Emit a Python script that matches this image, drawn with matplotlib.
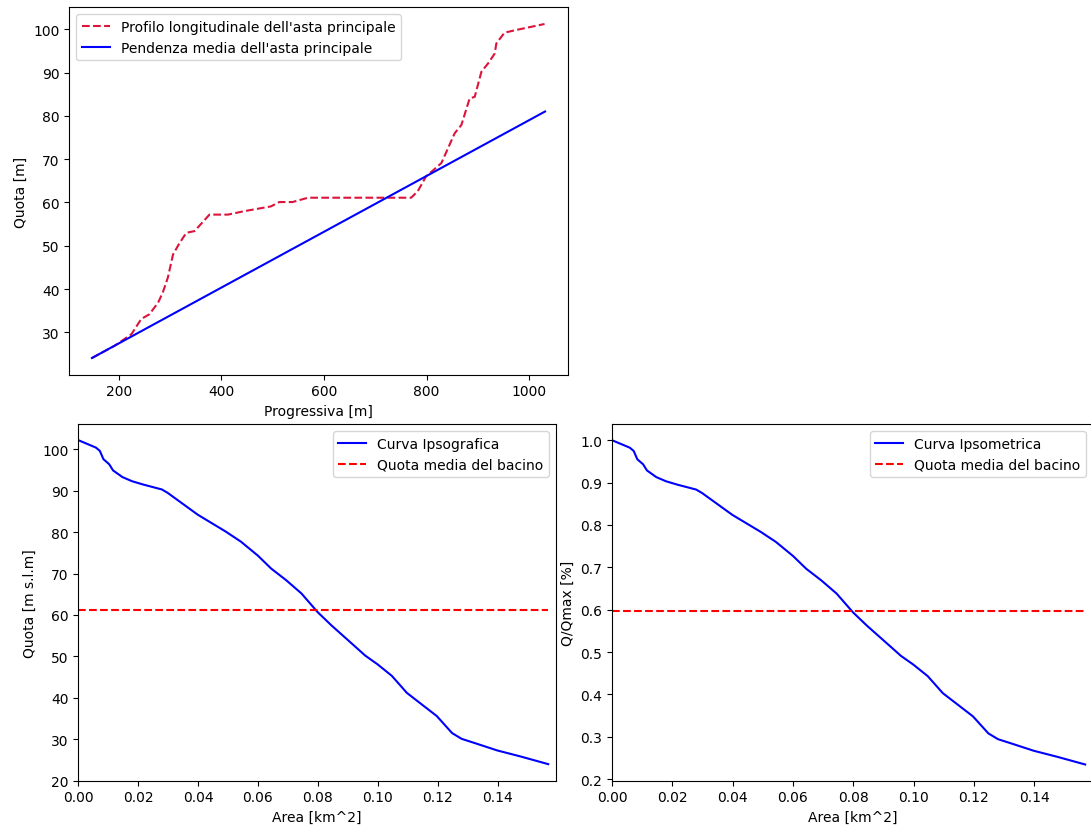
import numpy as np
import matplotlib
matplotlib.use("Agg")
import matplotlib.pyplot as plt

# profilo longitudinale dell'asta principale
progressiva = [148, 192, 225, 244, 260, 277, 286, 296, 306, 319, 332, 348, 377, 413,
               445, 497, 513, 539, 569, 692, 770, 783, 799, 829, 855, 868, 884, 894,
               907, 920, 933, 936, 952, 978, 1030]
quota_profilo = [24.1, 26.9, 29.6, 33.1, 34.2, 36.9, 39.2, 42.7, 48.0, 50.7, 53.0, 53.4,
                 57.2, 57.2, 58.0, 59.1, 60.1, 60.1, 61.1, 61.1, 61.1, 62.6, 66.0, 69.1,
                 76.0, 77.9, 84.0, 84.4, 90.2, 92.1, 94.4, 96.7, 99.2, 99.9, 101.2]

# pendenza media (estremi della retta)
progressiva_pend = [148, 1031]
quota_pend = [24.1, 81.0]

# curva ipsografica
area = [0.0, 0.0059, 0.0072, 0.0084, 0.0103, 0.0116, 0.0147, 0.0179, 0.0216, 0.0279,
        0.0298, 0.0399, 0.0493, 0.0543, 0.0600, 0.0644, 0.0694, 0.0745, 0.0799, 0.0845,
        0.0921, 0.0958, 0.0999, 0.1047, 0.1097, 0.1147, 0.1197, 0.1248, 0.1280, 0.1323,
        0.1399, 0.1474, 0.1569]
quota_ips = [102.2, 100.4, 99.6, 97.6, 96.4, 94.9, 93.3, 92.3, 91.5, 90.3,
             89.5, 84.2, 80.1, 77.7, 74.3, 71.2, 68.4, 65.2, 60.7, 57.5,
             52.6, 50.2, 48.1, 45.3, 41.2, 38.4, 35.6, 31.5, 30.1, 29.1,
             27.3, 25.9, 24.0]
quota_media = 61.1

W, H = 1091, 828
fig = plt.figure(figsize=(W / 100, H / 100), dpi=100)

def box(l, t, r, b):
    return [l / W, 1 - b / H, (r - l) / W, (b - t) / H]

ax1 = fig.add_axes(box(69.3, 8.3, 567.7, 375.7))
ax2 = fig.add_axes(box(78.3, 425, 556, 781.7))
ax3 = fig.add_axes(box(612, 425, 1093, 781.7))

ax1.plot(progressiva, quota_profilo, "--", color="crimson",
         label="Profilo longitudinale dell'asta principale")
ax1.plot(progressiva_pend, quota_pend, "-", color="blue",
         label="Pendenza media dell'asta principale")
ax1.set_xlabel("Progressiva [m]")
ax1.set_ylabel("Quota [m]")
ax1.legend(loc="upper left")

ax2.plot(area, quota_ips, color="blue", label="Curva Ipsografica")
ax2.plot([area[0], area[-1]], [quota_media, quota_media], "--", color="red",
         label="Quota media del bacino")
ax2.set_xlim(0, 0.1595)
ax2.set_ylim(20, 106.1)
ax2.set_xlabel("Area [km^2]")
ax2.set_ylabel("Quota [m s.l.m]")
ax2.legend(loc="upper right")

q = np.array(quota_ips)
qmax = q.max()
ax3.plot(area, q / qmax, color="blue", label="Curva Ipsometrica")
ax3.plot([area[0], area[-1]], [quota_media / qmax, quota_media / qmax], "--",
         color="red", label="Quota media del bacino")
ax3.set_xlim(0, 0.1595)
ax3.set_xlabel("Area [km^2]")
ax3.set_ylabel("Q/Qmax [%]")
ax3.legend(loc="upper right")

fig.savefig("out.png", dpi=100)
